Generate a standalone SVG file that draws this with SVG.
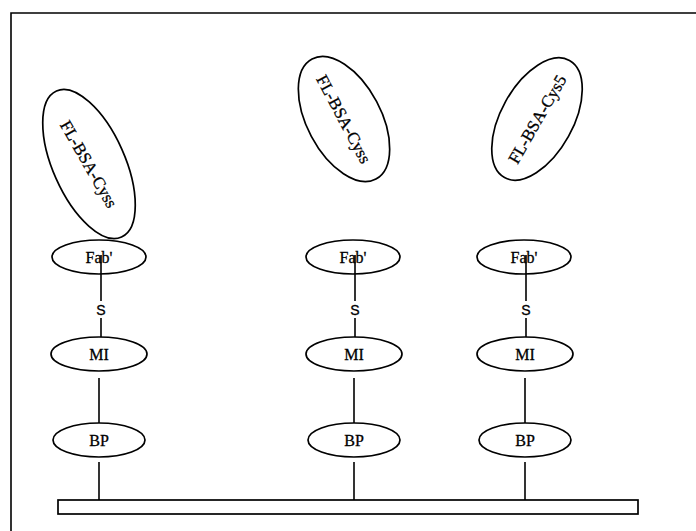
<svg xmlns="http://www.w3.org/2000/svg" width="696" height="531" viewBox="0 0 696 531">
<style>
.sh{fill:none;stroke:#000;stroke-width:1.7}
.ln{stroke:#000;stroke-width:1.6;fill:none}
.t{font-family:"Liberation Serif",serif;font-size:16px;fill:#000;stroke:#000;stroke-width:0.3;text-anchor:middle}
.big{font-family:"Liberation Serif",serif;font-size:17px;fill:#000;stroke:#000;stroke-width:0.3;text-anchor:middle}
.s{font-family:"Liberation Sans",sans-serif;font-size:14px;fill:#000;stroke:#000;stroke-width:0.3;text-anchor:middle}
</style>
<rect width="696" height="531" fill="#fff"/>
<g id="frame"><path class="ln" d="M11,531 L11,13 L696,13"/></g>
<g id="bsa1"><ellipse class="sh" cx="89" cy="164" rx="36" ry="80" transform="rotate(-24 89 164)"/><text class="big" x="89" y="170" transform="rotate(60 89 164)">FL-BSA-Cyss</text></g>
<g id="bsa2"><ellipse class="sh" cx="344" cy="119" rx="37" ry="68" transform="rotate(-28 344 119)"/><text class="big" x="344" y="125" transform="rotate(62 344 119)">FL-BSA-Cyss</text></g>
<g id="bsa3"><ellipse class="sh" cx="537" cy="119" rx="36" ry="67" transform="rotate(29 537 119)"/><text class="big" x="537" y="125" transform="rotate(-60 537 119)">FL-BSA-Cys5</text></g>
<g id="fab1"><ellipse class="sh" cx="99" cy="257" rx="47" ry="17"/><text class="t" x="99" y="263">Fab'</text></g>
<g id="fab2"><ellipse class="sh" cx="353" cy="257" rx="47" ry="17"/><text class="t" x="353" y="263">Fab'</text></g>
<g id="fab3"><ellipse class="sh" cx="524" cy="257" rx="47" ry="17"/><text class="t" x="524" y="263">Fab'</text></g>
<g id="s1"><text class="s" x="101" y="315">S</text></g>
<g id="s2"><text class="s" x="355" y="315">S</text></g>
<g id="s3"><text class="s" x="526" y="315">S</text></g>
<g id="mi1"><ellipse class="sh" cx="99" cy="354" rx="48" ry="17"/><text class="t" x="99" y="360">MI</text></g>
<g id="mi2"><ellipse class="sh" cx="354" cy="354" rx="48" ry="17"/><text class="t" x="354" y="360">MI</text></g>
<g id="mi3"><ellipse class="sh" cx="525" cy="354" rx="48" ry="17"/><text class="t" x="525" y="360">MI</text></g>
<g id="bp1"><ellipse class="sh" cx="99" cy="440" rx="46" ry="17"/><text class="t" x="99" y="446">BP</text></g>
<g id="bp2"><ellipse class="sh" cx="354" cy="440" rx="46" ry="17"/><text class="t" x="354" y="446">BP</text></g>
<g id="bp3"><ellipse class="sh" cx="525" cy="440" rx="46" ry="17"/><text class="t" x="525" y="446">BP</text></g>
<g id="bar"><rect class="sh" x="58" y="500" width="580" height="14" stroke-width="1.2"/></g>
<g id="connectors">
<line class="ln" x1="101" y1="255" x2="101" y2="301"/>
<line class="ln" x1="101" y1="318" x2="101" y2="337"/>
<line class="ln" x1="99" y1="378" x2="99" y2="423"/>
<line class="ln" x1="99" y1="462" x2="99" y2="500"/>
<line class="ln" x1="355" y1="255" x2="355" y2="301"/>
<line class="ln" x1="355" y1="318" x2="355" y2="337"/>
<line class="ln" x1="354" y1="378" x2="354" y2="423"/>
<line class="ln" x1="354" y1="462" x2="354" y2="500"/>
<line class="ln" x1="526" y1="255" x2="526" y2="301"/>
<line class="ln" x1="526" y1="318" x2="526" y2="337"/>
<line class="ln" x1="525" y1="378" x2="525" y2="423"/>
<line class="ln" x1="525" y1="462" x2="525" y2="500"/>
</g>
</svg>
